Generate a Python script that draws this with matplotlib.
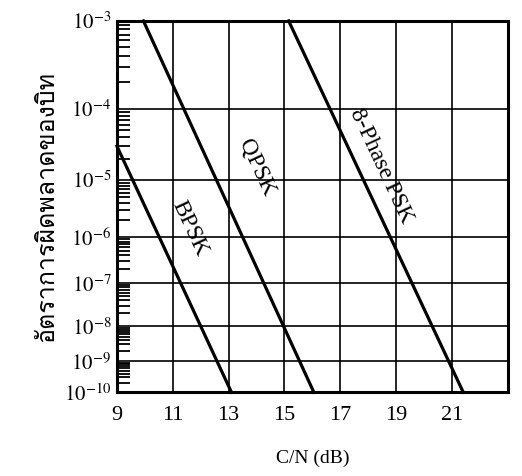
import numpy as np
import matplotlib
matplotlib.use("Agg")
import matplotlib.pyplot as plt
from matplotlib import font_manager
from matplotlib.ft2font import FT2Font
from matplotlib.ticker import FixedLocator, NullFormatter

# C/N (dB) and bit error rate at the ends of each (straight) curve
bpsk_cn = [9.0, 13.1]
bpsk_ber = [3.0e-5, 1e-10]
qpsk_cn = [9.95, 16.05]
qpsk_ber = [1e-3, 1e-10]
psk8_cn = [15.15, 21.4]
psk8_ber = [1e-3, 1e-10]

x_ticks = [9, 11, 13, 15, 17, 19, 21]
decades = np.arange(-10, -2)
y_label = "อัตราการผิดพลาดของบิท"
x_label = "C/N (dB)"

# the printed chart uses a non-log probability axis, calibrated per decade
decade_height = np.array([0, 31, 66, 109, 155, 212, 283, 371], dtype=float)


def forward(v):
    v = np.clip(np.asarray(v, dtype=float), 1e-300, None)
    return np.interp(np.log10(v), decades, decade_height)


def inverse(p):
    return 10.0 ** np.interp(p, decade_height, decades)


def find_thai_font():
    for f in font_manager.fontManager.ttflist:
        try:
            if ord("อ") in FT2Font(f.fname).get_charmap():
                return f.name
        except Exception:
            pass
    return "DejaVu Sans"


plt.rcParams["font.family"] = ["Liberation Serif", "DejaVu Serif"]
plt.rcParams["mathtext.fontset"] = "stix"

fig = plt.figure(figsize=(5.22, 4.76), dpi=100)
ax = fig.add_axes([0.224, 0.176, 0.749, 0.780])
ax.set_yscale("function", functions=(forward, inverse))
ax.set_xlim(9, 23)
ax.set_ylim(1e-10, 1e-3)

# grid
for x in x_ticks[1:]:
    ax.axvline(x, color="black", lw=1.2, zorder=1)
for d in decades[1:-1]:
    ax.axhline(10.0 ** d, color="black", lw=1.2, zorder=1)

lw = 2.3
ax.plot(bpsk_cn, bpsk_ber, color="black", lw=lw, clip_on=False, zorder=3)
ax.plot(qpsk_cn, qpsk_ber, color="black", lw=lw, clip_on=False, zorder=3)
ax.plot(psk8_cn, psk8_ber, color="black", lw=lw, clip_on=False, zorder=3)

txt = dict(rotation=-65, rotation_mode="anchor", ha="center", va="center",
           fontsize=17)
ax.text(11.6, 10 ** -5.84, "BPSK", **txt)
ax.text(14.0, 10 ** -4.83, "QPSK", **txt)
ax.text(18.45, 10 ** -4.8, "8-Phase PSK", **txt)

# ticks
ax.set_xticks(x_ticks)
ax.set_xticklabels([str(x) for x in x_ticks], fontsize=16)
ax.tick_params(axis="x", length=0, pad=10)

ax.yaxis.set_major_locator(FixedLocator(10.0 ** decades))
ax.set_yticklabels([r"$10^{%d}$" % d for d in decades], fontsize=15)
minors = [m * 10.0 ** d for d in decades[:-1] for m in range(2, 10)]
ax.yaxis.set_minor_locator(FixedLocator(minors))
ax.yaxis.set_minor_formatter(NullFormatter())
ax.tick_params(axis="y", which="major", direction="in", length=0, pad=4)
ax.tick_params(axis="y", which="minor", direction="in", length=9, width=1.3)

for s in ax.spines.values():
    s.set_linewidth(2.2)

ax.set_xlabel(x_label, fontsize=14, labelpad=18)
ax.set_ylabel(y_label, fontsize=18, family=[find_thai_font(), "DejaVu Sans"],
              labelpad=4)

fig.savefig("out.png", dpi=100)
